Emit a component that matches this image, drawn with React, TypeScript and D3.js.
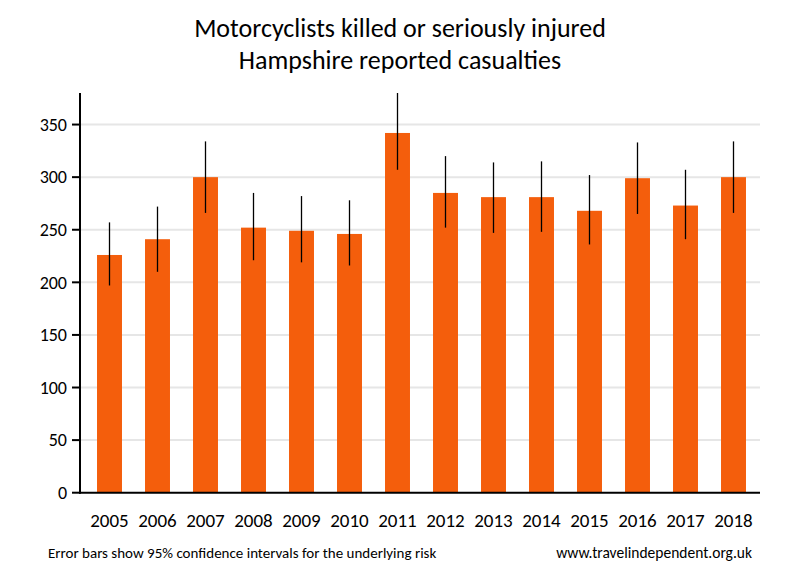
import React from "react";
import * as d3 from "d3";

const years = ["2005","2006","2007","2008","2009","2010","2011","2012","2013","2014","2015","2016","2017","2018"];
const casualties = [226, 241, 300, 252, 249, 246, 342, 285, 281, 281, 268, 299, 273, 300];
const ciLow = [197, 210, 266, 221, 219, 216, 307, 252, 247, 248, 236, 265, 241, 266];
const ciHigh = [257, 272, 334, 285, 282, 278, 380, 320, 314, 315, 302, 333, 307, 334];
const yTicks = [0, 50, 100, 150, 200, 250, 300, 350];
const titleLines = ["Motorcyclists killed or seriously injured", "Hampshire reported casualties"];
const footLeft = "Error bars show 95% confidence intervals for the underlying risk";
const footRight = "www.travelindependent.org.uk";

export default function App() {
  const W = 800, H = 580;
  const left = 80, right = 760, top = 93, bottom = 492.7;
  const y = d3.scaleLinear().domain([0, 380]).range([bottom, top]);
  const x = d3.scaleBand<string>().domain(years).range([85.5, 757.5]).paddingInner(0.48).paddingOuter(0.24);
  const bw = x.bandwidth();
  const font = "Carlito, Lato, 'Open Sans', sans-serif";
  return (
    <svg width={W} height={H} style={{ position: "absolute", left: 0, top: 0, background: "#fff" }} fontFamily={font}>
      {titleLines.map((t, i) => (
        <text key={t} x={400} y={37 + i * 32} textAnchor="middle" fontSize={26} fill="#000">{t}</text>
      ))}
      {yTicks.filter(v => v > 0).map(v => (
        <line key={"g" + v} x1={left} x2={right} y1={y(v)} y2={y(v)} stroke="#e6e6e6" strokeWidth={2} />
      ))}
      {years.map((yr, i) => (
        <rect key={yr} x={x(yr)!} width={bw} y={y(casualties[i])} height={y(0) - y(casualties[i])} fill="#f45e0c" />
      ))}
      {years.map((yr, i) => (
        <line key={"e" + yr} x1={x(yr)! + bw / 2} x2={x(yr)! + bw / 2} y1={y(ciLow[i])} y2={y(ciHigh[i])} stroke="#000" strokeWidth={1.3} />
      ))}
      <line x1={left} x2={left} y1={top} y2={bottom + 1} stroke="#000" strokeWidth={2} />
      <line x1={left - 1} x2={right} y1={bottom} y2={bottom} stroke="#000" strokeWidth={2} />
      {yTicks.map(v => (
        <g key={"t" + v}>
          <line x1={left - 8} x2={left} y1={y(v)} y2={y(v)} stroke="#000" strokeWidth={2} />
          <text x={67} y={y(v)} dy="0.35em" textAnchor="end" fontSize={18} fill="#000">{v}</text>
        </g>
      ))}
      {years.map(yr => (
        <text key={"l" + yr} x={x(yr)! + bw / 2} y={527} textAnchor="middle" fontSize={19} fill="#000">{yr}</text>
      ))}
      <text x={48} y={558} fontSize={15} fill="#000">{footLeft}</text>
      <text x={752} y={558} textAnchor="end" fontSize={15.5} fill="#000">{footRight}</text>
    </svg>
  );
}
